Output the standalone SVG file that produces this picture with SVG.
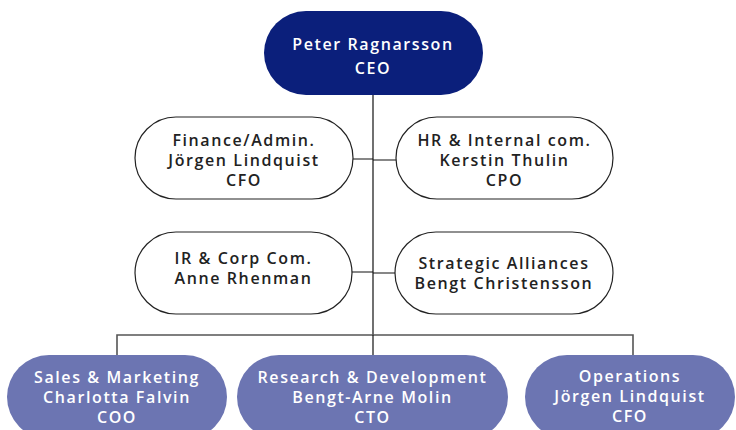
<svg xmlns="http://www.w3.org/2000/svg" width="736" height="430" viewBox="0 0 736 430">
<style>
text{font-family:"Open Sans","Liberation Sans",sans-serif;font-weight:600;font-size:16px;letter-spacing:1.6px;text-anchor:middle}
.w{fill:#ffffff}
.k{fill:#222222}
.ceo{fill:#0b1f7b}
.staff{fill:#ffffff;stroke:#222222;stroke-width:1.2}
.div{fill:#6c75b2}
.ln{stroke:#111111;stroke-width:1.2;fill:none}
.bus{stroke:#555555;stroke-width:1.6;fill:none}
</style>
<rect width="736" height="430" fill="#ffffff"/>
<g id="connectors">
<path class="ln" d="M373 95V335"/>
<path class="ln" d="M353 159H373M373 160H396M352 272H373M373 273H395"/>
<path class="bus" d="M117 355V335H633V355"/>
<path class="ln" d="M373 335V355"/>
</g>
<g id="ceo">
<rect class="ceo" x="264" y="11" width="219" height="84" rx="42"/>
<text class="w" x="373" y="50">Peter Ragnarsson</text>
<text class="w" x="373" y="74">CEO</text>
</g>
<g id="finance">
<rect class="staff" x="135" y="117" width="218" height="82" rx="41"/>
<text class="k" x="244" y="146">Finance/Admin.</text>
<text class="k" x="244" y="166">Jörgen Lindquist</text>
<text class="k" x="244" y="186">CFO</text>
</g>
<g id="hr">
<rect class="staff" x="396" y="117" width="217" height="82" rx="41"/>
<text class="k" x="504.5" y="146">HR &amp; Internal com.</text>
<text class="k" x="504.5" y="166">Kerstin Thulin</text>
<text class="k" x="504.5" y="186">CPO</text>
</g>
<g id="ir">
<rect class="staff" x="135" y="232" width="217" height="82" rx="41"/>
<text class="k" x="243.5" y="264">IR &amp; Corp Com.</text>
<text class="k" x="243.5" y="284">Anne Rhenman</text>
</g>
<g id="strategic">
<rect class="staff" x="395" y="232" width="218" height="82" rx="41"/>
<text class="k" x="504" y="269">Strategic Alliances</text>
<text class="k" x="504" y="289">Bengt Christensson</text>
</g>
<g id="sales">
<rect class="div" x="7" y="355" width="220" height="84" rx="42"/>
<text class="w" x="117" y="383">Sales &amp; Marketing</text>
<text class="w" x="117" y="403">Charlotta Falvin</text>
<text class="w" x="117" y="423">COO</text>
</g>
<g id="rnd">
<rect class="div" x="237" y="355" width="271" height="84" rx="42"/>
<text class="w" x="372.5" y="383">Research &amp; Development</text>
<text class="w" x="372.5" y="403">Bengt-Arne Molin</text>
<text class="w" x="372.5" y="423">CTO</text>
</g>
<g id="operations">
<rect class="div" x="525" y="355" width="210" height="84" rx="42"/>
<text class="w" x="630" y="382">Operations</text>
<text class="w" x="630" y="402">Jörgen Lindquist</text>
<text class="w" x="630" y="422">CFO</text>
</g>
</svg>
